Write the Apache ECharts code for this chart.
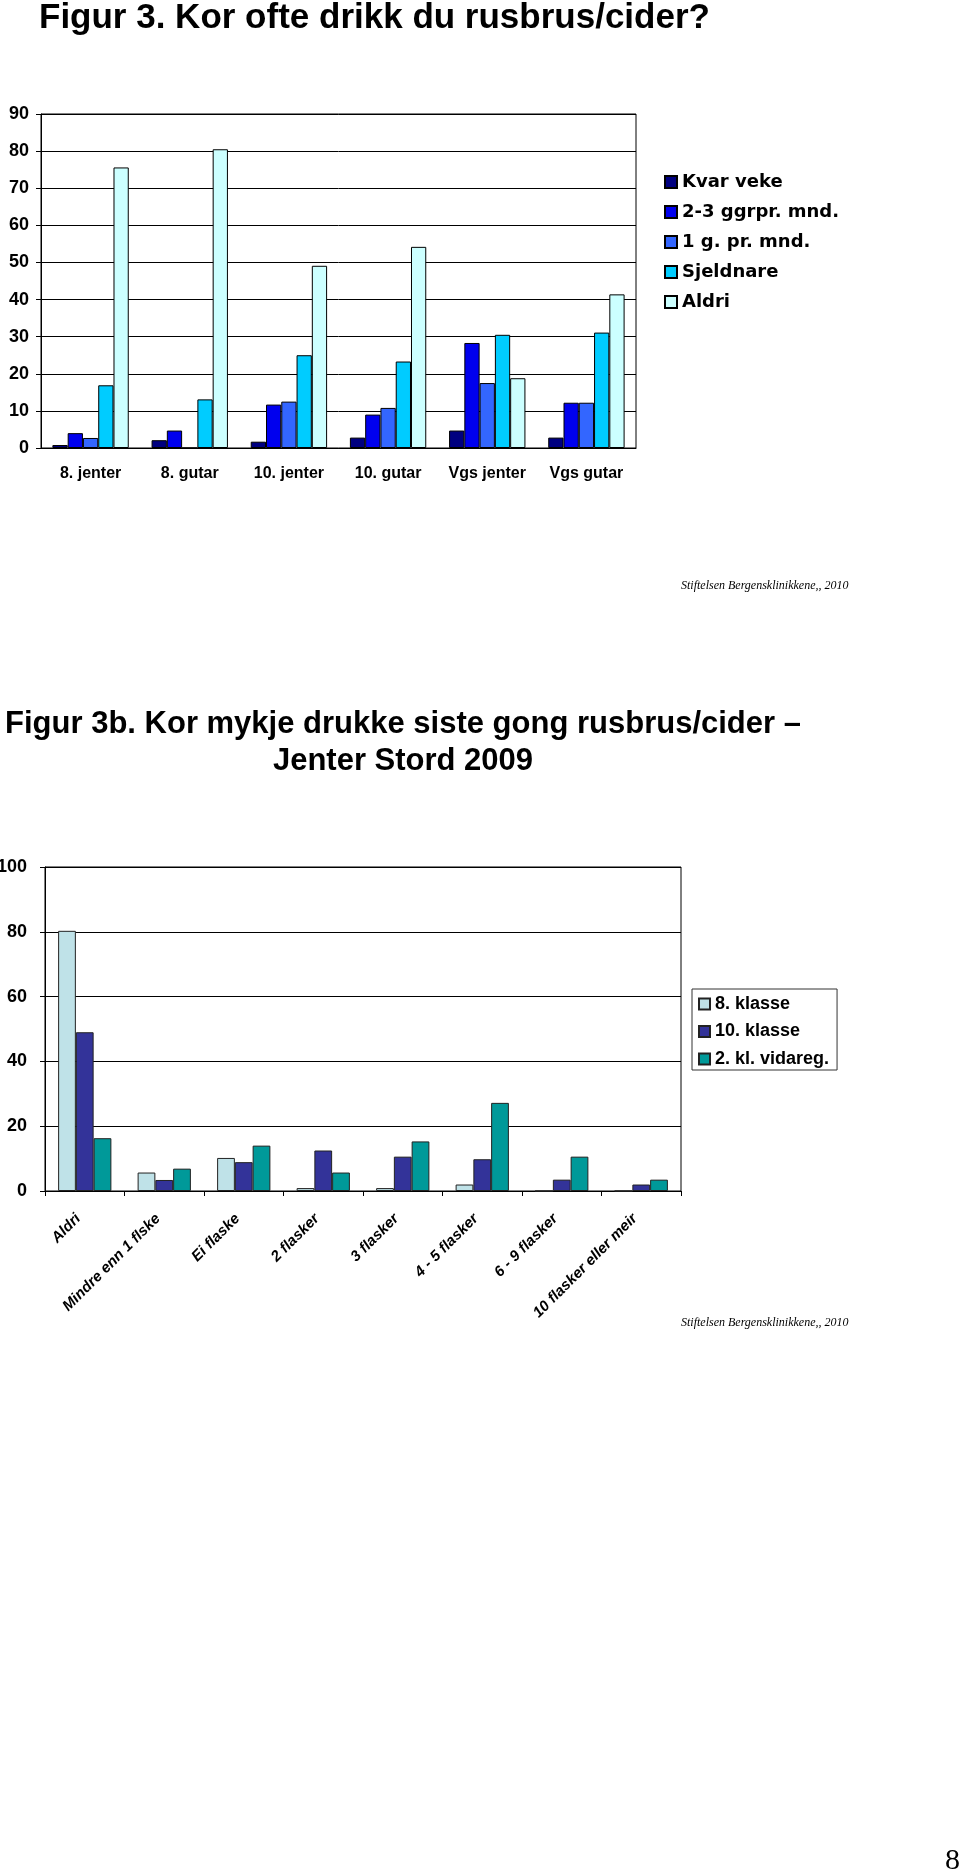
<!DOCTYPE html>
<html>
<head>
<meta charset="utf-8">
<script src="https://cdn.jsdelivr.net/npm/echarts@6/dist/echarts.min.js"></script>
<style>
html,body{margin:0;padding:0;background:#fff;}
#c{width:960px;height:1875px;}
</style>
</head>
<body>
<div id="c"></div>
<script>
// ---- Chart 1 data ----
const categories1 = ['8. jenter', '8. gutar', '10. jenter', '10. gutar', 'Vgs jenter', 'Vgs gutar'];
const seriesNames1 = ['Kvar veke', '2-3 ggrpr. mnd.', '1 g. pr. mnd.', 'Sjeldnare', 'Aldri'];
const kvarVeke = [0.8, 2.1, 1.7, 2.8, 4.7, 2.8];
const ggr23 = [4.0, 4.7, 11.7, 9.0, 28.3, 12.2];
const g1prmnd = [2.7, 0, 12.5, 10.8, 17.5, 12.2];
const sjeldnare = [16.9, 13.1, 25.0, 23.3, 30.5, 31.1];
const aldri = [75.6, 80.5, 49.1, 54.2, 18.8, 41.4];
const yTicks1 = [0, 10, 20, 30, 40, 50, 60, 70, 80, 90];

// ---- Chart 2 data ----
const categories2 = ['Aldri', 'Mindre enn 1 flske', 'Ei flaske', '2 flasker', '3 flasker', '4 - 5 flasker', '6 - 9 flasker', '10 flasker eller meir'];
const seriesNames2 = ['8. klasse', '10. klasse', '2. kl. vidareg.'];
const klasse8 = [80.3, 5.7, 10.2, 0.9, 0.9, 2.0, 0, 0];
const klasse10 = [49.0, 3.4, 8.9, 12.5, 10.6, 9.8, 3.5, 2.0];
const vidareg = [16.3, 6.9, 14.0, 5.7, 15.3, 27.2, 10.6, 3.5];
const yTicks2 = [0, 20, 40, 60, 80, 100];

const title1 = 'Figur 3. Kor ofte drikk du rusbrus/cider?';
const title2a = 'Figur 3b. Kor mykje drukke siste gong rusbrus/cider \u2013';
const title2b = 'Jenter Stord 2009';
const sourceText = 'Stiftelsen Bergensklinikkene,, 2010';
const pageNo = '8';

const colors1 = ['#000080', '#0000EE', '#3366FF', '#00CCFF', '#CCFFFF'];
const colors2 = ['#BFE2E8', '#333399', '#009999'];
const SANS = '"Liberation Sans", Arial, Helvetica, sans-serif';
const SERIF = '"Liberation Serif", "Times New Roman", serif';

const data1 = [kvarVeke, ggr23, g1prmnd, sjeldnare, aldri];
const data2 = [klasse8, klasse10, vidareg];

const series = [];
data1.forEach((d, i) => {
  series.push({
    type: 'bar', name: seriesNames1[i], xAxisIndex: 0, yAxisIndex: 0,
    data: d, barGap: '0%', barCategoryGap: '23%',
    itemStyle: { color: colors1[i], borderColor: '#000', borderWidth: 1 },
    emphasis: { disabled: true }
  });
});
data2.forEach((d, i) => {
  series.push({
    type: 'bar', name: seriesNames2[i], xAxisIndex: 1, yAxisIndex: 1,
    data: d, barGap: '0%', barCategoryGap: '33%',
    itemStyle: { color: colors2[i], borderColor: '#222', borderWidth: 1 },
    emphasis: { disabled: true }
  });
});

const chart = echarts.init(document.getElementById('c'), null, { renderer: 'canvas' });
chart.setOption({
  animation: false,
  backgroundColor: '#fff',
  textStyle: { fontFamily: SANS },
  grid: [
    { left: 41, top: 114, width: 595, height: 334, show: true, borderColor: '#000', borderWidth: 1, backgroundColor: 'transparent', outerBoundsMode: 'none', containLabel: false },
    { left: 45, top: 867, width: 636, height: 324, show: true, borderColor: '#000', borderWidth: 1, backgroundColor: 'transparent', outerBoundsMode: 'none', containLabel: false }
  ],
  xAxis: [
    {
      type: 'category', gridIndex: 0, data: categories1,
      axisLine: { lineStyle: { color: '#000', width: 1 } },
      axisTick: { show: false },
      axisLabel: { color: '#000', fontFamily: SANS, fontWeight: 'bold', fontSize: 16, margin: 18, interval: 0 }
    },
    {
      type: 'category', gridIndex: 1, data: categories2,
      axisLine: { lineStyle: { color: '#000', width: 1 } },
      axisTick: { show: true, alignWithLabel: false, length: 5, lineStyle: { color: '#000' } },
      axisLabel: { color: '#000', fontFamily: SANS, fontWeight: 'bold', fontStyle: 'italic', fontSize: 15, rotate: 45, margin: 19, interval: 0, padding: [0, 9, 0, 0] }
    }
  ],
  yAxis: [
    {
      type: 'value', gridIndex: 0, min: yTicks1[0], max: yTicks1[yTicks1.length - 1], interval: 10,
      axisLine: { show: true, lineStyle: { color: '#000', width: 1 } },
      axisTick: { show: true, length: 5, lineStyle: { color: '#000' } },
      splitLine: { show: true, lineStyle: { color: '#000', width: 1 } },
      axisLabel: { color: '#000', fontFamily: SANS, fontWeight: 'bold', fontSize: 18, margin: 12 }
    },
    {
      type: 'value', gridIndex: 1, min: yTicks2[0], max: yTicks2[yTicks2.length - 1], interval: 20,
      axisLine: { show: true, lineStyle: { color: '#000', width: 1 } },
      axisTick: { show: true, length: 5, lineStyle: { color: '#000' } },
      splitLine: { show: true, lineStyle: { color: '#000', width: 1 } },
      axisLabel: { color: '#000', fontFamily: SANS, fontWeight: 'bold', fontSize: 18, margin: 18 }
    }
  ],
  legend: [
    {
      data: seriesNames1, orient: 'vertical', left: 664, top: 173,
      itemWidth: 12, itemHeight: 12, itemGap: 12, icon: 'rect', padding: 0,
      selectedMode: false,
      textStyle: { color: '#000', fontFamily: '"DejaVu Sans", sans-serif', fontWeight: 'bold', fontSize: 18, lineHeight: 18 }
    },
    {
      data: seriesNames2, orient: 'vertical', left: 692, top: 989,
      itemWidth: 11, itemHeight: 11, itemGap: 9.5, icon: 'rect', padding: [6, 8, 2, 6],
      borderColor: '#333', borderWidth: 1,
      selectedMode: false,
      textStyle: { color: '#000', fontFamily: SANS, fontWeight: 'bold', fontSize: 18, lineHeight: 18 }
    }
  ],
  graphic: [
    { type: 'text', left: 39, top: 1, style: { text: title1, fill: '#000', font: 'bold 35px ' + SANS }, z: 10 },
    { type: 'text', x: 403, y: 724, style: { text: title2a, fill: '#000', font: 'bold 31px ' + SANS, align: 'center', verticalAlign: 'middle' } },
    { type: 'text', x: 403, y: 761, style: { text: title2b, fill: '#000', font: 'bold 31px ' + SANS, align: 'center', verticalAlign: 'middle' } },
    { type: 'text', x: 681, y: 586, style: { text: sourceText, fill: '#000', font: 'italic 12px ' + SERIF, align: 'left', verticalAlign: 'middle' } },
    { type: 'text', x: 681, y: 1323, style: { text: sourceText, fill: '#000', font: 'italic 12px ' + SERIF, align: 'left', verticalAlign: 'middle' } },
    { type: 'text', x: 960, y: 1861, style: { text: pageNo, fill: '#000', font: '30px ' + SERIF, align: 'right', verticalAlign: 'middle' } }
  ],
  series: series
});
</script>
</body>
</html>
